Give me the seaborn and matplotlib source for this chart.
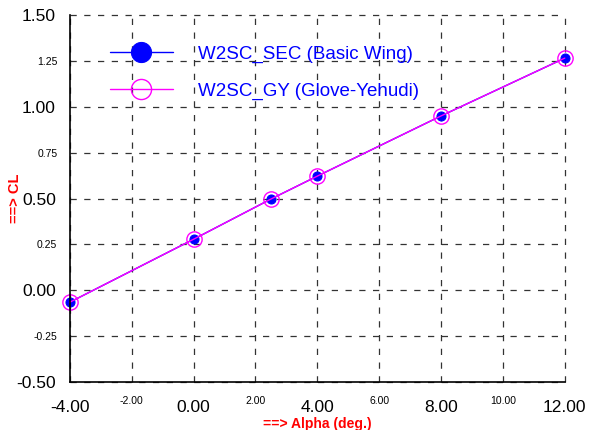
import matplotlib
matplotlib.use("Agg")
import matplotlib.pyplot as plt
import seaborn as sns
import pandas as pd
from matplotlib.ticker import MultipleLocator, FormatStrFormatter

alpha = [-4.0, 0.0, 2.5, 4.0, 8.0, 12.0]
cl_sec = [-0.065, 0.278, 0.497, 0.622, 0.950, 1.265]
cl_gy = [-0.065, 0.278, 0.497, 0.622, 0.950, 1.265]
labels = ["W2SC_SEC (Basic Wing)", "W2SC_GY (Glove-Yehudi)"]

sns.set_style("white")
plt.rcParams['font.family'] = ['Liberation Sans', 'DejaVu Sans']

fig = plt.figure(figsize=(5.92, 4.30), dpi=100)
ax = fig.add_axes([0.118, 0.1116, 0.836, 0.8535])

df1 = pd.DataFrame({"alpha": alpha, "cl": cl_sec})
df2 = pd.DataFrame({"alpha": alpha, "cl": cl_gy})

sns.lineplot(data=df1, x="alpha", y="cl", ax=ax, color="#0000ff", lw=1.0,
             marker="o", markersize=6.5, markerfacecolor="#0000ff",
             markeredgecolor="#0000ff", label=labels[0], zorder=3, clip_on=False)
sns.lineplot(data=df2, x="alpha", y="cl", ax=ax, color="#ff00ff", lw=1.0,
             marker="o", markersize=11, markerfacecolor="none",
             markeredgecolor="#ff00ff", markeredgewidth=1.0, label=labels[1], zorder=4,
             clip_on=False)

ax.set_xlim(-4, 12)
ax.set_ylim(-0.5, 1.5)
ax.xaxis.set_major_locator(MultipleLocator(4))
ax.xaxis.set_minor_locator(MultipleLocator(2))
ax.yaxis.set_major_locator(MultipleLocator(0.5))
ax.yaxis.set_minor_locator(MultipleLocator(0.25))
for a in (ax.xaxis, ax.yaxis):
    a.set_major_formatter(FormatStrFormatter("%.2f"))
    a.set_minor_formatter(FormatStrFormatter("%.2f"))

ax.tick_params(which="major", direction="inout", length=10, width=1, labelsize=12.5, colors="black")
ax.tick_params(which="minor", direction="inout", length=10, width=1, labelsize=7.5, colors="black")
ax.tick_params(axis="x", which="major", pad=8)
ax.tick_params(axis="x", which="minor", pad=5)
ax.tick_params(axis="y", which="major", pad=5)
ax.tick_params(axis="y", which="minor", pad=4)

ax.grid(True, which="both", color="#333333", linestyle=(0, (5, 6)), lw=0.9, clip_on=False)
ax.set_axisbelow(True)
for s in ("top", "right"):
    ax.spines[s].set_visible(False)
for s in ("left", "bottom"):
    ax.spines[s].set_color("black")
    ax.spines[s].set_linewidth(1.2)
    ax.spines[s].set_zorder(5)

ax.set_xlabel("==> Alpha (deg.)", color="red", fontsize=10, fontweight="bold")
ax.set_ylabel("==> CL", color="red", fontsize=10.5, fontweight="bold")
ax.xaxis.set_label_coords(0.5, -0.095)
ax.yaxis.set_label_coords(-0.097, 0.5)

leg = ax.legend(loc="upper left", bbox_to_anchor=(0.065, 0.937), frameon=False,
                handlelength=3.4, fontsize=13.5, labelspacing=1.05,
                handletextpad=1.3, borderaxespad=0)
for t in leg.get_texts():
    t.set_color("#0000ff")
for h in leg.legend_handles:
    h.set_markersize(14.5)

fig.savefig("out.png", dpi=100)
